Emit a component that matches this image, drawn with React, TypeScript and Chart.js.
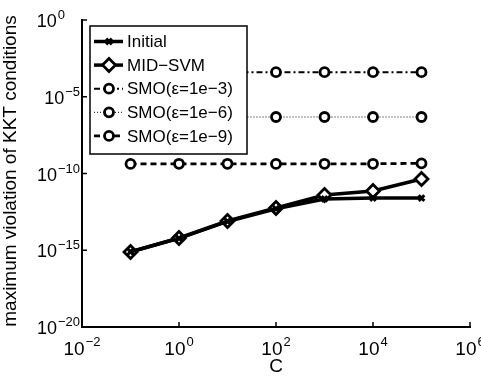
import React, { useEffect, useRef } from 'react';
import { Chart, registerables } from 'chart.js';
import { drawPoint } from 'chart.js/helpers';

Chart.register(...registerables);

const xValues = [0.1, 1, 10, 100, 1000, 10000, 100000];
const initialValues = [8e-16, 6e-15, 7.5e-14, 5e-13, 2.2e-12, 2.5e-12, 2.5e-12];
const midSvmValues = [7.7e-16, 6.3e-15, 8e-14, 5.6e-13, 4e-12, 7.2e-12, 4.4e-11];
const smo3Values = [4e-4, 4e-4, 4e-4, 4e-4, 4e-4, 4e-4, 4e-4];
const smo6Values = [4.8e-7, 4.8e-7, 4.8e-7, 4.8e-7, 4.8e-7, 4.8e-7, 4.8e-7];
const smo9Values = [4.2e-10, 4.3e-10, 4.3e-10, 4.2e-10, 4.3e-10, 4.3e-10, 4.6e-10];

const seriesLabels = ['Initial', 'MID\u2212SVM', 'SMO(\u03b5=1e\u22123)', 'SMO(\u03b5=1e\u22126)', 'SMO(\u03b5=1e\u22129)'];

const xTickValues = [1e-2, 1, 1e2, 1e4, 1e6];
const xTickExponents = ['\u22122', '0', '2', '4', '6'];
const yTickValues = [1e-20, 1e-15, 1e-10, 1e-5, 1];
const yTickExponents = ['\u221220', '\u221215', '\u221210', '\u22125', '0'];

const xTitle = 'C';
const yTitle = 'maximum violation of KKT conditions';

const FONT = "'Liberation Sans', Arial, Helvetica, sans-serif";

function pairs(ys: number[]) {
  return xValues.map((x, i) => ({ x, y: ys[i] }));
}

function drawPow(ctx: CanvasRenderingContext2D, exp: string, x: number, y: number, align: 'center' | 'right', baseSize: number, expSize: number, expRaise: number) {
  ctx.font = `${baseSize}px ${FONT}`;
  const w1 = ctx.measureText('10').width;
  ctx.font = `${expSize}px ${FONT}`;
  const w2 = ctx.measureText(exp).width;
  const gap = 1;
  const total = w1 + gap + w2;
  const start = align === 'center' ? x - total / 2 : x - total;
  ctx.textAlign = 'left';
  ctx.textBaseline = 'alphabetic';
  ctx.font = `${baseSize}px ${FONT}`;
  ctx.fillText('10', start, y);
  ctx.font = `${expSize}px ${FONT}`;
  ctx.fillText(exp, start + w1 + gap, y - expRaise);
}

const matlabPlugin = {
  id: 'matlabAxes',
  afterDraw(chart: any) {
    const ctx: CanvasRenderingContext2D = chart.ctx;
    const area = chart.chartArea;
    const xs = chart.scales.x;
    const ys = chart.scales.y;
    ctx.save();
    ctx.fillStyle = '#000';
    ctx.strokeStyle = '#000';
    ctx.lineWidth = 1.5;
    xTickValues.forEach((v) => {
      const px = xs.getPixelForValue(v);
      ctx.beginPath();
      ctx.moveTo(px, area.bottom);
      ctx.lineTo(px, area.bottom - 5);
      ctx.stroke();
    });
    yTickValues.forEach((v) => {
      const py = ys.getPixelForValue(v);
      ctx.beginPath();
      ctx.moveTo(area.left, py);
      ctx.lineTo(area.left + 5, py);
      ctx.stroke();
    });
    xTickValues.forEach((v, i) => {
      const px = xs.getPixelForValue(v);
      drawPow(ctx, xTickExponents[i], px, area.bottom + 28, 'center', 19, 13, 9);
    });
    yTickValues.forEach((v, i) => {
      const py = ys.getPixelForValue(v);
      const exp = yTickExponents[i];
      const right = area.left - 2 - (exp === '0' ? 15 : 0);
      drawPow(ctx, exp, right, py + 7, 'right', 18, 13, 8);
    });
    ctx.font = `19px ${FONT}`;
    ctx.textAlign = 'center';
    ctx.textBaseline = 'alphabetic';
    ctx.fillText(xTitle, (area.left + area.right) / 2, area.bottom + 45);
    ctx.save();
    ctx.translate(16, 171);
    ctx.rotate(-Math.PI / 2);
    ctx.font = `19px ${FONT}`;
    ctx.textAlign = 'center';
    ctx.textBaseline = 'alphabetic';
    ctx.fillText(yTitle, 0, 0);
    ctx.restore();

    const bx = 90, by = 26, bw = 157, bh = 128;
    ctx.fillStyle = '#fff';
    ctx.fillRect(bx, by, bw, bh);
    ctx.lineWidth = 1.5;
    ctx.strokeStyle = '#000';
    ctx.strokeRect(bx, by, bw, bh);
    chart.data.datasets.forEach((ds: any, i: number) => {
      const y = by + 15.5 + i * 23.6;
      ctx.save();
      ctx.strokeStyle = '#000';
      ctx.lineWidth = ds.borderWidth;
      ctx.setLineDash(ds.borderDash || []);
      ctx.beginPath();
      ctx.moveTo(bx + 4, y);
      ctx.lineTo(bx + 33, y);
      ctx.stroke();
      ctx.restore();
      ctx.save();
      ctx.strokeStyle = '#000';
      ctx.fillStyle = ds.pointBackgroundColor;
      ctx.lineWidth = ds.pointBorderWidth;
      drawPoint(ctx, { pointStyle: ds.pointStyle, radius: ds.pointRadius, borderWidth: ds.pointBorderWidth, rotation: 0 } as any, bx + 19, y);
      ctx.restore();
      ctx.fillStyle = '#000';
      ctx.font = `17px ${FONT}`;
      ctx.textAlign = 'left';
      ctx.textBaseline = 'middle';
      ctx.fillText(ds.label, bx + 37, y + 1);
    });
    ctx.restore();
  },
};

export default function App() {
  const ref = useRef<HTMLCanvasElement | null>(null);
  useEffect(() => {
    if (!ref.current) return;
    const common = { borderColor: '#000', pointBorderColor: '#000', pointBackgroundColor: '#fff', fill: false, tension: 0 };
    const chart = new Chart(ref.current, {
      type: 'line',
      data: {
        datasets: [
          { ...common, label: seriesLabels[0], data: pairs(initialValues), borderWidth: 3.5, pointStyle: 'crossRot', pointRadius: 4, pointBorderWidth: 3 },
          { ...common, label: seriesLabels[1], data: pairs(midSvmValues), borderWidth: 3.5, pointStyle: 'rectRot', pointRadius: 6.5, pointBorderWidth: 2.8 },
          { ...common, label: seriesLabels[2], data: pairs(smo3Values), borderWidth: 2, borderDash: [6, 3, 2, 3], pointStyle: 'circle', pointRadius: 4.5, pointBorderWidth: 2.8 },
          { ...common, label: seriesLabels[3], data: pairs(smo6Values), borderWidth: 1, borderDash: [1, 2], pointStyle: 'circle', pointRadius: 4.5, pointBorderWidth: 2.8 },
          { ...common, label: seriesLabels[4], data: pairs(smo9Values), borderWidth: 2.8, borderDash: [6, 4], pointStyle: 'circle', pointRadius: 4.5, pointBorderWidth: 2.8 },
        ] as any,
      },
      options: {
        animation: false,
        responsive: false,
        maintainAspectRatio: false,
        layout: { padding: { left: 82, top: 20, right: 11, bottom: 50 } },
        plugins: { legend: { display: false }, tooltip: { enabled: false } },
        scales: {
          x: {
            type: 'logarithmic', min: 1e-2, max: 1e6,
            afterBuildTicks: (s: any) => { s.ticks = xTickValues.map((v) => ({ value: v })); },
            ticks: { display: false },
            grid: { display: false, drawTicks: false },
            border: { display: true, color: '#000', width: 2 },
          },
          y: {
            type: 'logarithmic', min: 1e-20, max: 1,
            afterBuildTicks: (s: any) => { s.ticks = yTickValues.map((v) => ({ value: v })); },
            ticks: { display: false },
            grid: { display: false, drawTicks: false },
            border: { display: true, color: '#000', width: 2 },
          },
        },
      } as any,
      plugins: [matlabPlugin],
    });
    return () => chart.destroy();
  }, []);
  return (
    <div style={{ position: 'fixed', left: 0, top: 0, width: 481, height: 377, background: '#fff' }}>
      <canvas ref={ref} width={481} height={377} style={{ display: 'block' }} />
    </div>
  );
}
